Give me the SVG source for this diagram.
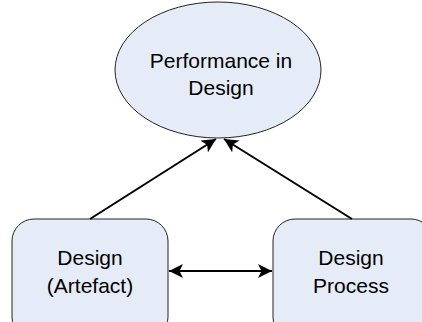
<svg xmlns="http://www.w3.org/2000/svg" width="422" height="322" viewBox="0 0 422 322">
<style>
.n{fill:#E6ECF7;stroke:#222;stroke-width:1}
.t{font-family:"Liberation Sans",Arial,sans-serif;font-size:21px;fill:#000;text-anchor:middle}
.c{stroke:#000;stroke-width:2;fill:none}
</style>
<defs>
<marker id="ah" viewBox="0 0 10 10" refX="10" refY="5" markerWidth="7" markerHeight="7" markerUnits="strokeWidth" orient="auto-start-reverse">
<path d="M0,0 L10,5 L0,10 L2.5,5 Z" fill="#000"/>
</marker>
</defs>
<rect width="422" height="322" fill="#fff"/>
<g id="performance">
<ellipse class="n" cx="218" cy="70" rx="103" ry="68"/>
<text class="t" x="221" y="68">Performance in</text>
<text class="t" x="221" y="95">Design</text>
</g>
<g id="artefact">
<rect class="n" x="12" y="219" width="156" height="120" rx="22"/>
<text class="t" x="90" y="265">Design</text>
<text class="t" x="90" y="293">(Artefact)</text>
</g>
<g id="process">
<rect class="n" x="273" y="219" width="160" height="120" rx="22"/>
<text class="t" x="351" y="265">Design</text>
<text class="t" x="351" y="293">Process</text>
</g>
<g id="connectors">
<line class="c" x1="90" y1="219" x2="216" y2="139" marker-end="url(#ah)"/>
<line class="c" x1="352" y1="219" x2="224" y2="139" marker-end="url(#ah)"/>
<line class="c" x1="169" y1="271" x2="272" y2="271" marker-start="url(#ah)" marker-end="url(#ah)"/>
</g>
</svg>
